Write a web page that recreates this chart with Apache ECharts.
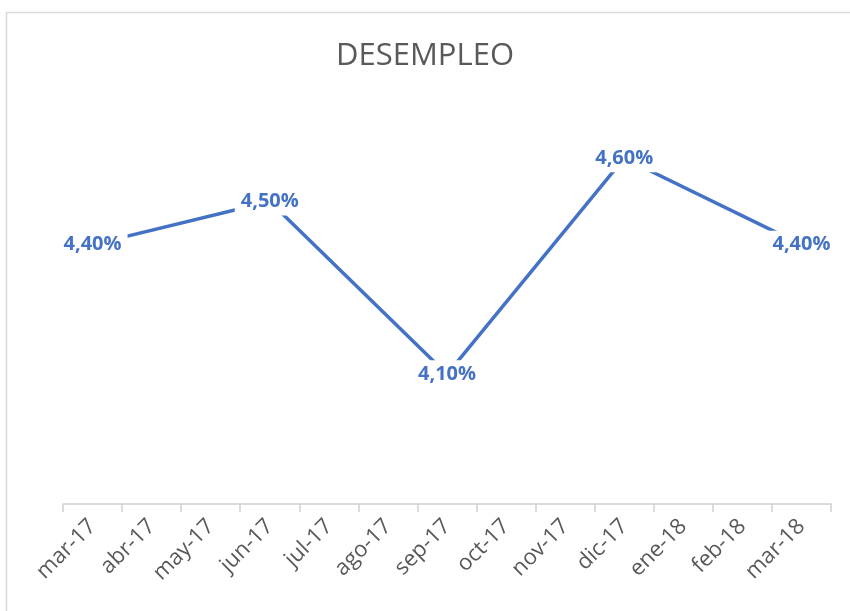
<!DOCTYPE html>
<html>
<head>
<meta charset="utf-8">
<script src="https://cdn.jsdelivr.net/npm/echarts@6/dist/echarts.min.js"></script>
<style>
  html, body { margin: 0; padding: 0; background: #fff; }
  #main { width: 850px; height: 611px; }
</style>
</head>
<body>
<div id="main"></div>
<script>
// monthly date axis, only quarterly values present
const months = ['mar-17', 'abr-17', 'may-17', 'jun-17', 'jul-17', 'ago-17', 'sep-17',
    'oct-17', 'nov-17', 'dic-17', 'ene-18', 'feb-18', 'mar-18'];
const desempleo = [4.4, null, null, 4.5, null, null, 4.1, null, null, 4.6, null, null, 4.4];

const chart = echarts.init(document.getElementById('main'), null, {renderer: 'canvas'});
const option = {
    backgroundColor: '#fff',
    animation: false,
    title: {
        text: 'DESEMPLEO',
        left: 'center',
        top: 36,
        textStyle: {
            fontFamily: 'Open Sans',
            fontWeight: 'normal',
            fontSize: 31,
            color: '#595959'
        }
    },
    graphic: [
        {
            type: 'rect',
            shape: {x: 6.5, y: 12.5, width: 900, height: 700},
            style: {fill: 'none', stroke: '#d9d9d9', lineWidth: 1.5},
            silent: true
        }
    ],
    grid: {
        left: 63,
        right: 19,
        top: 115,
        bottom: 107
    },
    xAxis: {
        type: 'category',
        data: months,
        boundaryGap: true,
        axisLine: {lineStyle: {color: '#d0d0d0', width: 1.5}},
        axisTick: {show: true, length: 8, lineStyle: {color: '#d0d0d0', width: 1.5}},
        axisLabel: {
            rotate: 45,
            interval: 0,
            margin: 19,
            fontFamily: 'Open Sans',
            fontSize: 22,
            color: '#595959'
        }
    },
    yAxis: {
        type: 'value',
        min: 3.8,
        max: 4.7,
        show: false,
        splitLine: {show: false}
    },
    series: [
        {
            name: 'Desempleo',
            type: 'line',
            data: desempleo,
            connectNulls: true,
            symbol: 'circle',
            symbolSize: 1,
            lineStyle: {color: '#4472C4', width: 3.5},
            itemStyle: {color: '#4472C4'},
            label: {
                show: true,
                position: 'inside',
                formatter: function (p) {
                    return p.value.toFixed(2).replace('.', ',') + '%';
                },
                fontFamily: 'Open Sans',
                fontWeight: 'bold',
                fontSize: 20,
                color: '#4472C4',
                backgroundColor: '#fff',
                padding: [4, 6]
            }
        }
    ]
};
chart.setOption(option);
</script>
</body>
</html>
